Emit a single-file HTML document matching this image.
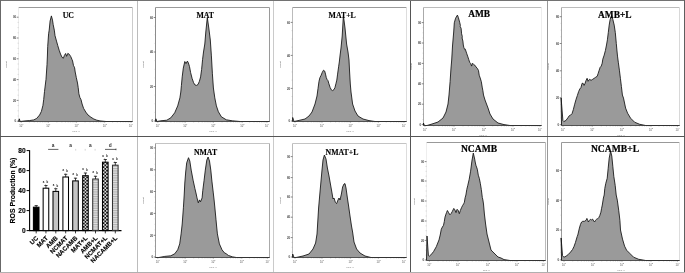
<!DOCTYPE html>
<html><head><meta charset="utf-8"><style>
html,body{margin:0;padding:0;background:#fff;width:685px;height:273px;overflow:hidden}
svg{display:block;font-family:"Liberation Sans",sans-serif;filter:grayscale(1)}
</style></head><body>
<svg width="685" height="273" viewBox="0 0 685 273">
<defs><pattern id="chk1" width="3.3" height="3.3" patternUnits="userSpaceOnUse" x="82.98" y="0"><rect width="3.3" height="3.3" fill="#111"/><rect width="1.65" height="1.65" fill="#e0e0e0"/><rect x="1.65" y="1.65" width="1.65" height="1.65" fill="#e0e0e0"/></pattern><pattern id="chk2" width="3.5" height="3.5" patternUnits="userSpaceOnUse" x="102.67" y="0"><rect width="3.5" height="3.5" fill="#111"/><rect width="1.75" height="1.75" fill="#e0e0e0"/><rect x="1.75" y="1.75" width="1.75" height="1.75" fill="#e0e0e0"/></pattern><pattern id="hst" width="4" height="1.75" patternUnits="userSpaceOnUse"><rect width="4" height="1.75" fill="#e2e2e2"/><rect width="4" height="0.85" fill="#b0b0b0"/></pattern></defs>
<rect width="685" height="273" fill="#fff"/>
<path d="M18.5 7.5H132.5" stroke="#9a9a9a" stroke-width="1" fill="none"/>
<path d="M132.5 7.5V121.5" stroke="#cccccc" stroke-width="1" fill="none"/>
<path d="M18.5 7.5V121.5" stroke="#ececec" stroke-width="1" fill="none"/>
<path d="M17.6 116H18.5M17.6 110.8H18.5M17.6 105.6H18.5M17.6 95.2H18.5M17.6 90H18.5M17.6 84.8H18.5M17.6 74.4H18.5M17.6 69.2H18.5M17.6 64H18.5M17.6 53.6H18.5M17.6 48.4H18.5M17.6 43.2H18.5M17.6 32.8H18.5M17.6 27.6H18.5M17.6 22.4H18.5" stroke="#999" stroke-width="0.4"/>
<path d="M16.7 121.2H18.5" stroke="#555" stroke-width="0.7"/>
<path d="M16.7 100.4H18.5" stroke="#555" stroke-width="0.7"/>
<path d="M16.7 79.6H18.5" stroke="#555" stroke-width="0.7"/>
<path d="M16.7 58.8H18.5" stroke="#555" stroke-width="0.7"/>
<path d="M16.7 38H18.5" stroke="#555" stroke-width="0.7"/>
<path d="M16.7 17.2H18.5" stroke="#555" stroke-width="0.7"/>
<text x="16.2" y="122.45" font-size="2.9" font-weight="bold" fill="#444" text-anchor="end">0</text>
<text x="16.2" y="101.65" font-size="2.9" font-weight="bold" fill="#444" text-anchor="end">20</text>
<text x="16.2" y="80.85" font-size="2.9" font-weight="bold" fill="#444" text-anchor="end">40</text>
<text x="16.2" y="60.05" font-size="2.9" font-weight="bold" fill="#444" text-anchor="end">60</text>
<text x="16.2" y="39.25" font-size="2.9" font-weight="bold" fill="#444" text-anchor="end">80</text>
<text x="16.2" y="18.45" font-size="2.9" font-weight="bold" fill="#444" text-anchor="end">00</text>
<path d="M21.2 121.5V122.8M29.39 121.5V122.3M34.18 121.5V122.3M37.58 121.5V122.3M40.21 121.5V122.3M42.37 121.5V122.3M44.19 121.5V122.3M45.76 121.5V122.3M47.16 121.5V122.3M48.4 121.5V122.8M56.89 121.5V122.3M61.85 121.5V122.3M65.38 121.5V122.3M68.11 121.5V122.3M70.34 121.5V122.3M72.23 121.5V122.3M73.87 121.5V122.3M75.31 121.5V122.3M76.6 121.5V122.8M85.06 121.5V122.3M90.01 121.5V122.3M93.52 121.5V122.3M96.24 121.5V122.3M98.47 121.5V122.3M100.35 121.5V122.3M101.98 121.5V122.3M103.41 121.5V122.3M104.7 121.5V122.8M112.65 121.5V122.3M117.3 121.5V122.3M120.59 121.5V122.3M123.15 121.5V122.3M125.24 121.5V122.3M127.01 121.5V122.3M128.54 121.5V122.3M129.89 121.5V122.3M131.1 121.5V122.8" stroke="#444" stroke-width="0.4"/>
<text x="21.2" y="126.5" font-size="2.7" fill="#555" text-anchor="middle">10<tspan font-size="1.9" dy="-1.1">0</tspan></text>
<text x="48.4" y="126.5" font-size="2.7" fill="#555" text-anchor="middle">10<tspan font-size="1.9" dy="-1.1">1</tspan></text>
<text x="76.6" y="126.5" font-size="2.7" fill="#555" text-anchor="middle">10<tspan font-size="1.9" dy="-1.1">2</tspan></text>
<text x="104.7" y="126.5" font-size="2.7" fill="#555" text-anchor="middle">10<tspan font-size="1.9" dy="-1.1">3</tspan></text>
<text x="131.1" y="126.5" font-size="2.7" fill="#555" text-anchor="middle">10<tspan font-size="1.9" dy="-1.1">4</tspan></text>
<text x="76" y="131.9" font-size="2.5" fill="#666" text-anchor="middle">FL1-H</text>
<text transform="translate(7.1 64.5) rotate(-90)" font-size="2.5" fill="#666" text-anchor="middle">Count</text>
<path d="M18.5 121.5 L19.3 118.8 L20.2 121.5 L25 120.9 L29.4 120.6 L33.8 119.9 L36.7 118.4 L39.6 115 L41.4 111.4 L42.9 105.5 L43.7 99.6 L44.5 91.5 L45.3 85 L46 79.3 L47 64.7 L47.4 56 L47.7 46.6 L48.6 33.8 L49.2 30.1 L50.1 21 L51.4 15.9 L52.5 20.1 L53.2 24.7 L54.3 30.1 L55 35.6 L56.5 41.1 L57.8 45.7 L59.2 50.3 L60.5 54 L62 57.3 L63.4 58.2 L64.4 55.4 L65.6 53.5 L66.6 56.3 L67.8 53.4 L69.3 54.3 L70.8 56.7 L72 59.5 L72.6 61 L73.5 65.6 L74.2 66.8 L74.6 67.8 L75.2 72 L76.3 77.5 L77.5 83 L78.2 87.5 L78.9 93.8 L79.9 97.5 L81 99.6 L82.1 104 L83.6 108.4 L85.8 112.1 L88 115 L90.9 117.2 L93.8 119 L96.8 120.2 L100 120.9 L106 121.5 L132.5 121.5Z" fill="#9a9a9a"/>
<path d="M18.5 121.5 L19.3 118.8 L20.2 121.5 L25 120.9 L29.4 120.6 L33.8 119.9 L36.7 118.4 L39.6 115 L41.4 111.4 L42.9 105.5 L43.7 99.6 L44.5 91.5 L45.3 85 L46 79.3 L47 64.7 L47.4 56 L47.7 46.6 L48.6 33.8 L49.2 30.1 L50.1 21 L51.4 15.9 L52.5 20.1 L53.2 24.7 L54.3 30.1 L55 35.6 L56.5 41.1 L57.8 45.7 L59.2 50.3 L60.5 54 L62 57.3 L63.4 58.2 L64.4 55.4 L65.6 53.5 L66.6 56.3 L67.8 53.4 L69.3 54.3 L70.8 56.7 L72 59.5 L72.6 61 L73.5 65.6 L74.2 66.8 L74.6 67.8 L75.2 72 L76.3 77.5 L77.5 83 L78.2 87.5 L78.9 93.8 L79.9 97.5 L81 99.6 L82.1 104 L83.6 108.4 L85.8 112.1 L88 115 L90.9 117.2 L93.8 119 L96.8 120.2 L100 120.9 L106 121.5 L132.5 121.5" fill="none" stroke="#111" stroke-width="0.85" stroke-linejoin="miter" stroke-miterlimit="3"/>
<path d="M18.5 121.5H132.5" stroke="#333" stroke-width="0.8" fill="none"/>
<text x="68.3" y="17.8" font-family="Liberation Serif" font-weight="bold" font-size="7.8" text-anchor="middle" fill="#000" stroke="#000" stroke-width="0.12">UC</text>
<path d="M155.5 7.5H269.5" stroke="#9a9a9a" stroke-width="1" fill="none"/>
<path d="M269.5 7.5V121.5" stroke="#9a9a9a" stroke-width="1" fill="none"/>
<path d="M155.5 7.5V121.5" stroke="#8c8c8c" stroke-width="1" fill="none"/>
<path d="M154.6 112.38H155.5M154.6 103.75H155.5M154.6 95.12H155.5M154.6 77.88H155.5M154.6 69.25H155.5M154.6 60.62H155.5M154.6 43.38H155.5M154.6 34.75H155.5M154.6 26.12H155.5" stroke="#999" stroke-width="0.4"/>
<path d="M153.7 121H155.5" stroke="#555" stroke-width="0.7"/>
<path d="M153.7 86.5H155.5" stroke="#555" stroke-width="0.7"/>
<path d="M153.7 52H155.5" stroke="#555" stroke-width="0.7"/>
<path d="M153.7 17.5H155.5" stroke="#555" stroke-width="0.7"/>
<text x="153.2" y="122.25" font-size="2.9" font-weight="bold" fill="#444" text-anchor="end">0</text>
<text x="153.2" y="87.75" font-size="2.9" font-weight="bold" fill="#444" text-anchor="end">20</text>
<text x="153.2" y="53.25" font-size="2.9" font-weight="bold" fill="#444" text-anchor="end">40</text>
<text x="153.2" y="18.75" font-size="2.9" font-weight="bold" fill="#444" text-anchor="end">60</text>
<path d="M157.8 121.5V122.8M166.05 121.5V122.3M170.87 121.5V122.3M174.3 121.5V122.3M176.95 121.5V122.3M179.12 121.5V122.3M180.96 121.5V122.3M182.54 121.5V122.3M183.95 121.5V122.3M185.2 121.5V122.8M193.69 121.5V122.3M198.65 121.5V122.3M202.18 121.5V122.3M204.91 121.5V122.3M207.14 121.5V122.3M209.03 121.5V122.3M210.67 121.5V122.3M212.11 121.5V122.3M213.4 121.5V122.8M222.07 121.5V122.3M227.14 121.5V122.3M230.74 121.5V122.3M233.53 121.5V122.3M235.81 121.5V122.3M237.74 121.5V122.3M239.41 121.5V122.3M240.88 121.5V122.3M242.2 121.5V122.8M249.67 121.5V122.3M254.03 121.5V122.3M257.13 121.5V122.3M259.53 121.5V122.3M261.5 121.5V122.3M263.16 121.5V122.3M264.6 121.5V122.3M265.87 121.5V122.3M267 121.5V122.8" stroke="#444" stroke-width="0.4"/>
<text x="157.8" y="126.5" font-size="2.7" fill="#555" text-anchor="middle">10<tspan font-size="1.9" dy="-1.1">0</tspan></text>
<text x="185.2" y="126.5" font-size="2.7" fill="#555" text-anchor="middle">10<tspan font-size="1.9" dy="-1.1">1</tspan></text>
<text x="213.4" y="126.5" font-size="2.7" fill="#555" text-anchor="middle">10<tspan font-size="1.9" dy="-1.1">2</tspan></text>
<text x="242.2" y="126.5" font-size="2.7" fill="#555" text-anchor="middle">10<tspan font-size="1.9" dy="-1.1">3</tspan></text>
<text x="267" y="126.5" font-size="2.7" fill="#555" text-anchor="middle">10<tspan font-size="1.9" dy="-1.1">4</tspan></text>
<text x="213" y="131.9" font-size="2.5" fill="#666" text-anchor="middle">FL1-H</text>
<text transform="translate(144.1 64.5) rotate(-90)" font-size="2.5" fill="#666" text-anchor="middle">Count</text>
<path d="M155.5 121.5 L155.9 118.8 L156.8 121.5 L160.8 120.8 L166.8 120.2 L170.8 117.8 L174.7 112.8 L177.7 105.9 L179.9 97.9 L180.8 92 L181.4 85.5 L182.2 76.9 L183.3 68.1 L184.8 61.5 L186 63.6 L187.4 61.1 L188.4 63 L189.5 66.6 L190.6 72.5 L192.1 78.4 L193.6 82.7 L195 85 L196.5 85.4 L198 84.5 L199.4 81.3 L200.6 76.9 L201.6 69.6 L202.6 59.3 L203.5 52 L204.8 44 L205.8 32 L207.3 17.5 L208.8 28 L210.3 40 L211.4 55.9 L212.4 73.8 L213.4 88 L214.8 97.9 L216.4 105.9 L218.4 111.8 L221.4 116.8 L226.3 119.8 L232.3 120.8 L240.2 121.5 L269.5 121.5Z" fill="#9a9a9a"/>
<path d="M155.5 121.5 L155.9 118.8 L156.8 121.5 L160.8 120.8 L166.8 120.2 L170.8 117.8 L174.7 112.8 L177.7 105.9 L179.9 97.9 L180.8 92 L181.4 85.5 L182.2 76.9 L183.3 68.1 L184.8 61.5 L186 63.6 L187.4 61.1 L188.4 63 L189.5 66.6 L190.6 72.5 L192.1 78.4 L193.6 82.7 L195 85 L196.5 85.4 L198 84.5 L199.4 81.3 L200.6 76.9 L201.6 69.6 L202.6 59.3 L203.5 52 L204.8 44 L205.8 32 L207.3 17.5 L208.8 28 L210.3 40 L211.4 55.9 L212.4 73.8 L213.4 88 L214.8 97.9 L216.4 105.9 L218.4 111.8 L221.4 116.8 L226.3 119.8 L232.3 120.8 L240.2 121.5 L269.5 121.5" fill="none" stroke="#111" stroke-width="0.85" stroke-linejoin="miter" stroke-miterlimit="3"/>
<path d="M155.5 121.5H269.5" stroke="#333" stroke-width="0.8" fill="none"/>
<text x="205.2" y="18.1" font-family="Liberation Serif" font-weight="bold" font-size="7.8" text-anchor="middle" fill="#000" stroke="#000" stroke-width="0.12">MAT</text>
<path d="M292.5 7.5H406.5" stroke="#9a9a9a" stroke-width="1" fill="none"/>
<path d="M406.5 7.5V121.5" stroke="#dddddd" stroke-width="1" fill="none"/>
<path d="M292.5 7.5V121.5" stroke="#bbbbbb" stroke-width="1" fill="none"/>
<path d="M291.6 112.85H292.5M291.6 104.7H292.5M291.6 96.55H292.5M291.6 80.15H292.5M291.6 71.9H292.5M291.6 63.65H292.5M291.6 47.15H292.5M291.6 38.9H292.5M291.6 30.65H292.5" stroke="#999" stroke-width="0.4"/>
<path d="M290.7 121H292.5" stroke="#555" stroke-width="0.7"/>
<path d="M290.7 88.4H292.5" stroke="#555" stroke-width="0.7"/>
<path d="M290.7 55.4H292.5" stroke="#555" stroke-width="0.7"/>
<path d="M290.7 22.4H292.5" stroke="#555" stroke-width="0.7"/>
<text x="290.2" y="122.25" font-size="2.9" font-weight="bold" fill="#444" text-anchor="end">0</text>
<text x="290.2" y="89.65" font-size="2.9" font-weight="bold" fill="#444" text-anchor="end">20</text>
<text x="290.2" y="56.65" font-size="2.9" font-weight="bold" fill="#444" text-anchor="end">40</text>
<text x="290.2" y="23.65" font-size="2.9" font-weight="bold" fill="#444" text-anchor="end">60</text>
<path d="M295 121.5V122.8M303.13 121.5V122.3M307.88 121.5V122.3M311.26 121.5V122.3M313.87 121.5V122.3M316.01 121.5V122.3M317.82 121.5V122.3M319.38 121.5V122.3M320.76 121.5V122.3M322 121.5V122.8M330.61 121.5V122.3M335.65 121.5V122.3M339.22 121.5V122.3M341.99 121.5V122.3M344.26 121.5V122.3M346.17 121.5V122.3M347.83 121.5V122.3M349.29 121.5V122.3M350.6 121.5V122.8M359.03 121.5V122.3M363.96 121.5V122.3M367.46 121.5V122.3M370.17 121.5V122.3M372.39 121.5V122.3M374.26 121.5V122.3M375.89 121.5V122.3M377.32 121.5V122.3M378.6 121.5V122.8M386.25 121.5V122.3M390.72 121.5V122.3M393.89 121.5V122.3M396.35 121.5V122.3M398.37 121.5V122.3M400.07 121.5V122.3M401.54 121.5V122.3M402.84 121.5V122.3M404 121.5V122.8" stroke="#444" stroke-width="0.4"/>
<text x="295" y="126.5" font-size="2.7" fill="#555" text-anchor="middle">10<tspan font-size="1.9" dy="-1.1">0</tspan></text>
<text x="322" y="126.5" font-size="2.7" fill="#555" text-anchor="middle">10<tspan font-size="1.9" dy="-1.1">1</tspan></text>
<text x="350.6" y="126.5" font-size="2.7" fill="#555" text-anchor="middle">10<tspan font-size="1.9" dy="-1.1">2</tspan></text>
<text x="378.6" y="126.5" font-size="2.7" fill="#555" text-anchor="middle">10<tspan font-size="1.9" dy="-1.1">3</tspan></text>
<text x="404" y="126.5" font-size="2.7" fill="#555" text-anchor="middle">10<tspan font-size="1.9" dy="-1.1">4</tspan></text>
<text x="350" y="131.9" font-size="2.5" fill="#666" text-anchor="middle">FL1-H</text>
<text transform="translate(281.1 64.5) rotate(-90)" font-size="2.5" fill="#666" text-anchor="middle">Count</text>
<path d="M292.5 121.5 L292.7 117.5 L294 121.5 L299 120.4 L305 119 L309 116 L312 112 L315 104 L317 96 L318 88.6 L319 81.3 L319.9 77.7 L321.1 75.3 L322.3 72.3 L323.5 70.2 L324.7 71.1 L325.5 74.1 L326.3 77.7 L327.1 79.5 L328 80.7 L328.9 83.8 L330.1 87.4 L331.3 89.8 L332.4 90.6 L332.8 90.4 L334 89.6 L335 87.4 L335.9 83.8 L336.8 80.1 L337.6 74.1 L338.6 66.8 L339.3 62 L340.1 55 L341 48 L342.2 36 L343.4 15.6 L345 28 L346.6 44 L348 52 L349 60 L349.6 72 L350.3 84 L351 92 L352.6 104 L355 111 L358 116 L363 119 L369 120.6 L375 121.5 L406.5 121.5Z" fill="#9a9a9a"/>
<path d="M292.5 121.5 L292.7 117.5 L294 121.5 L299 120.4 L305 119 L309 116 L312 112 L315 104 L317 96 L318 88.6 L319 81.3 L319.9 77.7 L321.1 75.3 L322.3 72.3 L323.5 70.2 L324.7 71.1 L325.5 74.1 L326.3 77.7 L327.1 79.5 L328 80.7 L328.9 83.8 L330.1 87.4 L331.3 89.8 L332.4 90.6 L332.8 90.4 L334 89.6 L335 87.4 L335.9 83.8 L336.8 80.1 L337.6 74.1 L338.6 66.8 L339.3 62 L340.1 55 L341 48 L342.2 36 L343.4 15.6 L345 28 L346.6 44 L348 52 L349 60 L349.6 72 L350.3 84 L351 92 L352.6 104 L355 111 L358 116 L363 119 L369 120.6 L375 121.5 L406.5 121.5" fill="none" stroke="#111" stroke-width="0.85" stroke-linejoin="miter" stroke-miterlimit="3"/>
<path d="M292.5 121.5H406.5" stroke="#333" stroke-width="0.8" fill="none"/>
<text x="342.2" y="18.2" font-family="Liberation Serif" font-weight="bold" font-size="7.8" text-anchor="middle" fill="#000" stroke="#000" stroke-width="0.12">MAT+L</text>
<path d="M423.5 7.5H541.5" stroke="#bcbcbc" stroke-width="1" fill="none"/>
<path d="M541.5 7.5V125.5" stroke="#eeeeee" stroke-width="1" fill="none"/>
<path d="M423.5 7.5V125.5" stroke="#aaaaaa" stroke-width="1" fill="none"/>
<path d="M422.6 119.5H423.5M422.6 114.4H423.5M422.6 109.3H423.5M422.6 99.1H423.5M422.6 94H423.5M422.6 88.9H423.5M422.6 78.7H423.5M422.6 73.6H423.5M422.6 68.5H423.5M422.6 58.3H423.5M422.6 53.2H423.5M422.6 48.1H423.5M422.6 37.9H423.5M422.6 32.8H423.5M422.6 27.7H423.5" stroke="#999" stroke-width="0.4"/>
<path d="M421.7 124.6H423.5" stroke="#555" stroke-width="0.7"/>
<path d="M421.7 104.2H423.5" stroke="#555" stroke-width="0.7"/>
<path d="M421.7 83.8H423.5" stroke="#555" stroke-width="0.7"/>
<path d="M421.7 63.4H423.5" stroke="#555" stroke-width="0.7"/>
<path d="M421.7 43H423.5" stroke="#555" stroke-width="0.7"/>
<path d="M421.7 22.6H423.5" stroke="#555" stroke-width="0.7"/>
<text x="421.2" y="125.85" font-size="2.9" font-weight="bold" fill="#444" text-anchor="end">0</text>
<text x="421.2" y="105.45" font-size="2.9" font-weight="bold" fill="#444" text-anchor="end">20</text>
<text x="421.2" y="85.05" font-size="2.9" font-weight="bold" fill="#444" text-anchor="end">40</text>
<text x="421.2" y="64.65" font-size="2.9" font-weight="bold" fill="#444" text-anchor="end">60</text>
<text x="421.2" y="44.25" font-size="2.9" font-weight="bold" fill="#444" text-anchor="end">80</text>
<text x="421.2" y="23.85" font-size="2.9" font-weight="bold" fill="#444" text-anchor="end">00</text>
<path d="M425 125.5V126.8M433.73 125.5V126.3M438.84 125.5V126.3M442.46 125.5V126.3M445.27 125.5V126.3M447.57 125.5V126.3M449.51 125.5V126.3M451.19 125.5V126.3M452.67 125.5V126.3M454 125.5V126.8M463.03 125.5V126.3M468.31 125.5V126.3M472.06 125.5V126.3M474.97 125.5V126.3M477.34 125.5V126.3M479.35 125.5V126.3M481.09 125.5V126.3M482.63 125.5V126.3M484 125.5V126.8M492.73 125.5V126.3M497.84 125.5V126.3M501.46 125.5V126.3M504.27 125.5V126.3M506.57 125.5V126.3M508.51 125.5V126.3M510.19 125.5V126.3M511.67 125.5V126.3M513 125.5V126.8M521.13 125.5V126.3M525.88 125.5V126.3M529.26 125.5V126.3M531.87 125.5V126.3M534.01 125.5V126.3M535.82 125.5V126.3M537.38 125.5V126.3M538.76 125.5V126.3M540 125.5V126.8" stroke="#444" stroke-width="0.4"/>
<text x="425" y="130.5" font-size="2.7" fill="#555" text-anchor="middle">10<tspan font-size="1.9" dy="-1.1">0</tspan></text>
<text x="454" y="130.5" font-size="2.7" fill="#555" text-anchor="middle">10<tspan font-size="1.9" dy="-1.1">1</tspan></text>
<text x="484" y="130.5" font-size="2.7" fill="#555" text-anchor="middle">10<tspan font-size="1.9" dy="-1.1">2</tspan></text>
<text x="513" y="130.5" font-size="2.7" fill="#555" text-anchor="middle">10<tspan font-size="1.9" dy="-1.1">3</tspan></text>
<text x="540" y="130.5" font-size="2.7" fill="#555" text-anchor="middle">10<tspan font-size="1.9" dy="-1.1">4</tspan></text>
<text x="483" y="135.9" font-size="2.5" fill="#666" text-anchor="middle">FL1-H</text>
<text transform="translate(412.1 66.5) rotate(-90)" font-size="2.5" fill="#666" text-anchor="middle">Count</text>
<path d="M423.5 125.5 L423.4 123 L424.5 125.5 L427 125.5 L432 124 L438 122 L443 118 L446 112 L448 104 L449 95 L450.1 81.6 L451 68 L451.7 60 L452.5 46 L453.7 32 L454.3 22.8 L455.6 18.2 L457.4 15.1 L458.3 17.3 L459.8 22.8 L460.4 25.5 L460.2 26.5 L461.1 28.3 L461.6 33.8 L462.3 36.5 L462.1 38 L462.9 41.1 L463.3 45 L463.9 47.7 L464.8 49.6 L465.3 49.2 L466.6 53.2 L467.9 56.9 L468.8 59.7 L469.7 62.4 L470.6 63.3 L471.6 66.1 L472.5 63.3 L473.4 64.2 L474.7 65.1 L476.1 67 L477.6 68.8 L478.5 70.6 L479.2 75.2 L480.2 78 L481.3 81.6 L482.2 87.1 L482.9 90.8 L483.5 95 L485 100 L488 108 L490 114 L493 119 L498 123 L504 124.6 L510 125.5 L541.5 125.5Z" fill="#9a9a9a"/>
<path d="M423.5 125.5 L423.4 123 L424.5 125.5 L427 125.5 L432 124 L438 122 L443 118 L446 112 L448 104 L449 95 L450.1 81.6 L451 68 L451.7 60 L452.5 46 L453.7 32 L454.3 22.8 L455.6 18.2 L457.4 15.1 L458.3 17.3 L459.8 22.8 L460.4 25.5 L460.2 26.5 L461.1 28.3 L461.6 33.8 L462.3 36.5 L462.1 38 L462.9 41.1 L463.3 45 L463.9 47.7 L464.8 49.6 L465.3 49.2 L466.6 53.2 L467.9 56.9 L468.8 59.7 L469.7 62.4 L470.6 63.3 L471.6 66.1 L472.5 63.3 L473.4 64.2 L474.7 65.1 L476.1 67 L477.6 68.8 L478.5 70.6 L479.2 75.2 L480.2 78 L481.3 81.6 L482.2 87.1 L482.9 90.8 L483.5 95 L485 100 L488 108 L490 114 L493 119 L498 123 L504 124.6 L510 125.5 L541.5 125.5" fill="none" stroke="#111" stroke-width="0.85" stroke-linejoin="miter" stroke-miterlimit="3"/>
<path d="M423.5 125.5H541.5" stroke="#333" stroke-width="0.8" fill="none"/>
<text x="479.2" y="17.4" font-family="Liberation Serif" font-weight="bold" font-size="9.4" text-anchor="middle" fill="#000" stroke="#000" stroke-width="0.2">AMB</text>
<path d="M561.5 7.5H679.5" stroke="#bcbcbc" stroke-width="1" fill="none"/>
<path d="M679.5 7.5V125.5" stroke="#d8d8d8" stroke-width="1" fill="none"/>
<path d="M561.5 7.5V125.5" stroke="#aaaaaa" stroke-width="1" fill="none"/>
<path d="M560.6 117.95H561.5M560.6 111.2H561.5M560.6 104.45H561.5M560.6 90.97H561.5M560.6 84.25H561.5M560.6 77.53H561.5M560.6 63.97H561.5M560.6 57.15H561.5M560.6 50.33H561.5M560.6 36.8H561.5M560.6 30.1H561.5M560.6 23.4H561.5" stroke="#999" stroke-width="0.4"/>
<path d="M559.7 124.7H561.5" stroke="#555" stroke-width="0.7"/>
<path d="M559.7 97.7H561.5" stroke="#555" stroke-width="0.7"/>
<path d="M559.7 70.8H561.5" stroke="#555" stroke-width="0.7"/>
<path d="M559.7 43.5H561.5" stroke="#555" stroke-width="0.7"/>
<path d="M559.7 16.7H561.5" stroke="#555" stroke-width="0.7"/>
<text x="559.2" y="125.95" font-size="2.9" font-weight="bold" fill="#444" text-anchor="end">0</text>
<text x="559.2" y="98.95" font-size="2.9" font-weight="bold" fill="#444" text-anchor="end">20</text>
<text x="559.2" y="72.05" font-size="2.9" font-weight="bold" fill="#444" text-anchor="end">40</text>
<text x="559.2" y="44.75" font-size="2.9" font-weight="bold" fill="#444" text-anchor="end">60</text>
<text x="559.2" y="17.95" font-size="2.9" font-weight="bold" fill="#444" text-anchor="end">80</text>
<path d="M563 125.5V126.8M571.82 125.5V126.3M576.98 125.5V126.3M580.64 125.5V126.3M583.48 125.5V126.3M585.8 125.5V126.3M587.76 125.5V126.3M589.46 125.5V126.3M590.96 125.5V126.3M592.3 125.5V126.8M601.24 125.5V126.3M606.47 125.5V126.3M610.18 125.5V126.3M613.06 125.5V126.3M615.41 125.5V126.3M617.4 125.5V126.3M619.12 125.5V126.3M620.64 125.5V126.3M622 125.5V126.8M630.73 125.5V126.3M635.84 125.5V126.3M639.46 125.5V126.3M642.27 125.5V126.3M644.57 125.5V126.3M646.51 125.5V126.3M648.19 125.5V126.3M649.67 125.5V126.3M651 125.5V126.8M658.98 125.5V126.3M663.64 125.5V126.3M666.95 125.5V126.3M669.52 125.5V126.3M671.62 125.5V126.3M673.4 125.5V126.3M674.93 125.5V126.3M676.29 125.5V126.3M677.5 125.5V126.8" stroke="#444" stroke-width="0.4"/>
<text x="563" y="130.5" font-size="2.7" fill="#555" text-anchor="middle">10<tspan font-size="1.9" dy="-1.1">0</tspan></text>
<text x="592.3" y="130.5" font-size="2.7" fill="#555" text-anchor="middle">10<tspan font-size="1.9" dy="-1.1">1</tspan></text>
<text x="622" y="130.5" font-size="2.7" fill="#555" text-anchor="middle">10<tspan font-size="1.9" dy="-1.1">2</tspan></text>
<text x="651" y="130.5" font-size="2.7" fill="#555" text-anchor="middle">10<tspan font-size="1.9" dy="-1.1">3</tspan></text>
<text x="677.5" y="130.5" font-size="2.7" fill="#555" text-anchor="middle">10<tspan font-size="1.9" dy="-1.1">4</tspan></text>
<text x="621" y="135.9" font-size="2.5" fill="#666" text-anchor="middle">FL1-H</text>
<text transform="translate(549.3 66.5) rotate(-90)" font-size="2.5" fill="#666" text-anchor="middle">Count</text>
<path d="M561.5 125.5 L561.1 98 L562.9 120.5 L563.8 121.5 L565.9 120.5 L567.9 117.8 L569.2 115.8 L570.6 115.1 L572 113.7 L573.3 109.7 L574.7 104.2 L576 99.5 L577.4 95.4 L578.7 91.4 L579.8 89 L581 87.4 L582.1 83.3 L583.1 83.3 L584.1 85.4 L585.1 83.3 L586.1 80.3 L587.1 78.3 L588.1 81.3 L589.5 79.3 L591.1 80.3 L592.7 79.3 L594.2 78.3 L595.6 77.3 L597.2 76.3 L598.2 73.3 L599.2 70.2 L600.2 67.2 L601.2 66.2 L602.2 63.2 L602.8 59.2 L604.2 55.1 L605.4 50.5 L606.5 45 L607.4 39.8 L608.3 32.5 L609.2 25.1 L610.1 19.7 L611.6 15.1 L612.9 19.7 L614.2 25.1 L615.3 32.5 L615.8 38 L616.3 43.5 L616.9 50 L617.5 56.1 L618.3 62.2 L619.4 70.2 L620.4 78.3 L621.4 86.4 L622.4 95 L623.5 98.1 L625.6 108.1 L627.6 113.2 L630.6 118.2 L634.6 122.2 L639.7 124.3 L645.7 125.5 L679.5 125.5Z" fill="#9a9a9a"/>
<path d="M561.5 125.5 L561.1 98 L562.9 120.5 L563.8 121.5 L565.9 120.5 L567.9 117.8 L569.2 115.8 L570.6 115.1 L572 113.7 L573.3 109.7 L574.7 104.2 L576 99.5 L577.4 95.4 L578.7 91.4 L579.8 89 L581 87.4 L582.1 83.3 L583.1 83.3 L584.1 85.4 L585.1 83.3 L586.1 80.3 L587.1 78.3 L588.1 81.3 L589.5 79.3 L591.1 80.3 L592.7 79.3 L594.2 78.3 L595.6 77.3 L597.2 76.3 L598.2 73.3 L599.2 70.2 L600.2 67.2 L601.2 66.2 L602.2 63.2 L602.8 59.2 L604.2 55.1 L605.4 50.5 L606.5 45 L607.4 39.8 L608.3 32.5 L609.2 25.1 L610.1 19.7 L611.6 15.1 L612.9 19.7 L614.2 25.1 L615.3 32.5 L615.8 38 L616.3 43.5 L616.9 50 L617.5 56.1 L618.3 62.2 L619.4 70.2 L620.4 78.3 L621.4 86.4 L622.4 95 L623.5 98.1 L625.6 108.1 L627.6 113.2 L630.6 118.2 L634.6 122.2 L639.7 124.3 L645.7 125.5 L679.5 125.5" fill="none" stroke="#111" stroke-width="0.85" stroke-linejoin="miter" stroke-miterlimit="3"/>
<path d="M561.5 125.5H679.5" stroke="#333" stroke-width="0.8" fill="none"/>
<text x="614.8" y="17.5" font-family="Liberation Serif" font-weight="bold" font-size="9.4" text-anchor="middle" fill="#000" stroke="#000" stroke-width="0.2">AMB+L</text>
<path d="M155.5 143.5H269.5" stroke="#c4c4c4" stroke-width="1" fill="none"/>
<path d="M269.5 143.5V257.5" stroke="#aaaaaa" stroke-width="1" fill="none"/>
<path d="M155.5 143.5V257.5" stroke="#999999" stroke-width="1" fill="none"/>
<path d="M154.6 251.57H155.5M154.6 246.15H155.5M154.6 240.73H155.5M154.6 229.83H155.5M154.6 224.35H155.5M154.6 218.88H155.5M154.6 207.93H155.5M154.6 202.45H155.5M154.6 196.97H155.5M154.6 186.07H155.5M154.6 180.65H155.5M154.6 175.23H155.5M154.6 164.33H155.5M154.6 158.85H155.5M154.6 153.38H155.5" stroke="#999" stroke-width="0.4"/>
<path d="M153.7 257H155.5" stroke="#555" stroke-width="0.7"/>
<path d="M153.7 235.3H155.5" stroke="#555" stroke-width="0.7"/>
<path d="M153.7 213.4H155.5" stroke="#555" stroke-width="0.7"/>
<path d="M153.7 191.5H155.5" stroke="#555" stroke-width="0.7"/>
<path d="M153.7 169.8H155.5" stroke="#555" stroke-width="0.7"/>
<path d="M153.7 147.9H155.5" stroke="#555" stroke-width="0.7"/>
<text x="153.2" y="258.25" font-size="2.9" font-weight="bold" fill="#444" text-anchor="end">0</text>
<text x="153.2" y="236.55" font-size="2.9" font-weight="bold" fill="#444" text-anchor="end">20</text>
<text x="153.2" y="214.65" font-size="2.9" font-weight="bold" fill="#444" text-anchor="end">40</text>
<text x="153.2" y="192.75" font-size="2.9" font-weight="bold" fill="#444" text-anchor="end">60</text>
<text x="153.2" y="171.05" font-size="2.9" font-weight="bold" fill="#444" text-anchor="end">80</text>
<text x="153.2" y="149.15" font-size="2.9" font-weight="bold" fill="#444" text-anchor="end">00</text>
<path d="M157.8 257.5V258.8M166.05 257.5V258.3M170.87 257.5V258.3M174.3 257.5V258.3M176.95 257.5V258.3M179.12 257.5V258.3M180.96 257.5V258.3M182.54 257.5V258.3M183.95 257.5V258.3M185.2 257.5V258.8M193.69 257.5V258.3M198.65 257.5V258.3M202.18 257.5V258.3M204.91 257.5V258.3M207.14 257.5V258.3M209.03 257.5V258.3M210.67 257.5V258.3M212.11 257.5V258.3M213.4 257.5V258.8M221.95 257.5V258.3M226.95 257.5V258.3M230.5 257.5V258.3M233.25 257.5V258.3M235.5 257.5V258.3M237.4 257.5V258.3M239.05 257.5V258.3M240.5 257.5V258.3M241.8 257.5V258.8M249.57 257.5V258.3M254.11 257.5V258.3M257.33 257.5V258.3M259.83 257.5V258.3M261.88 257.5V258.3M263.6 257.5V258.3M265.1 257.5V258.3M266.42 257.5V258.3M267.6 257.5V258.8" stroke="#444" stroke-width="0.4"/>
<text x="157.8" y="262.5" font-size="2.7" fill="#555" text-anchor="middle">10<tspan font-size="1.9" dy="-1.1">0</tspan></text>
<text x="185.2" y="262.5" font-size="2.7" fill="#555" text-anchor="middle">10<tspan font-size="1.9" dy="-1.1">1</tspan></text>
<text x="213.4" y="262.5" font-size="2.7" fill="#555" text-anchor="middle">10<tspan font-size="1.9" dy="-1.1">2</tspan></text>
<text x="241.8" y="262.5" font-size="2.7" fill="#555" text-anchor="middle">10<tspan font-size="1.9" dy="-1.1">3</tspan></text>
<text x="267.6" y="262.5" font-size="2.7" fill="#555" text-anchor="middle">10<tspan font-size="1.9" dy="-1.1">4</tspan></text>
<text x="213" y="267.9" font-size="2.5" fill="#666" text-anchor="middle">FL1-H</text>
<text transform="translate(144.1 200.5) rotate(-90)" font-size="2.5" fill="#666" text-anchor="middle">Count</text>
<path d="M155.5 257.5 L158.8 257.5 L164.8 256.4 L170.8 255.8 L174.7 253.8 L177.7 249.8 L179.7 243.9 L181.1 233.9 L182.2 224 L183.4 207.8 L184.2 195 L184.8 183 L185.7 172 L186.7 162.8 L188.5 157.7 L189.8 161 L191.2 170.1 L193.1 180.2 L194.9 188.5 L196.2 194 L197 197.9 L198.3 202.8 L199.5 199.9 L200.5 201.8 L202.1 197.9 L202.8 190.3 L204.1 180.2 L205.3 170.1 L206.8 160.1 L208.1 157 L209.5 161 L210.8 170.1 L211.9 181.1 L213.2 192.1 L214.1 200 L214.8 207 L216 219.7 L216.6 226 L217.4 233.9 L219.4 243.9 L222 249.8 L224.4 252.8 L226.3 253.8 L228.3 255.4 L232.3 256.8 L236.3 257.5 L269.5 257.5Z" fill="#9a9a9a"/>
<path d="M155.5 257.5 L158.8 257.5 L164.8 256.4 L170.8 255.8 L174.7 253.8 L177.7 249.8 L179.7 243.9 L181.1 233.9 L182.2 224 L183.4 207.8 L184.2 195 L184.8 183 L185.7 172 L186.7 162.8 L188.5 157.7 L189.8 161 L191.2 170.1 L193.1 180.2 L194.9 188.5 L196.2 194 L197 197.9 L198.3 202.8 L199.5 199.9 L200.5 201.8 L202.1 197.9 L202.8 190.3 L204.1 180.2 L205.3 170.1 L206.8 160.1 L208.1 157 L209.5 161 L210.8 170.1 L211.9 181.1 L213.2 192.1 L214.1 200 L214.8 207 L216 219.7 L216.6 226 L217.4 233.9 L219.4 243.9 L222 249.8 L224.4 252.8 L226.3 253.8 L228.3 255.4 L232.3 256.8 L236.3 257.5 L269.5 257.5" fill="none" stroke="#111" stroke-width="0.85" stroke-linejoin="miter" stroke-miterlimit="3"/>
<path d="M155.5 257.5H269.5" stroke="#333" stroke-width="0.8" fill="none"/>
<text x="205.5" y="154.7" font-family="Liberation Serif" font-weight="bold" font-size="7.8" text-anchor="middle" fill="#000" stroke="#000" stroke-width="0.12">NMAT</text>
<path d="M292.5 143.5H406.5" stroke="#c4c4c4" stroke-width="1" fill="none"/>
<path d="M406.5 143.5V257.5" stroke="#dddddd" stroke-width="1" fill="none"/>
<path d="M292.5 143.5V257.5" stroke="#bbbbbb" stroke-width="1" fill="none"/>
<path d="M291.6 252.15H292.5M291.6 247.3H292.5M291.6 242.45H292.5M291.6 232.5H292.5M291.6 227.4H292.5M291.6 222.3H292.5M291.6 212.15H292.5M291.6 207.1H292.5M291.6 202.05H292.5M291.6 192.15H292.5M291.6 187.3H292.5M291.6 182.45H292.5M291.6 172.35H292.5M291.6 167.1H292.5M291.6 161.85H292.5" stroke="#999" stroke-width="0.4"/>
<path d="M290.7 257H292.5" stroke="#555" stroke-width="0.7"/>
<path d="M290.7 237.6H292.5" stroke="#555" stroke-width="0.7"/>
<path d="M290.7 217.2H292.5" stroke="#555" stroke-width="0.7"/>
<path d="M290.7 197H292.5" stroke="#555" stroke-width="0.7"/>
<path d="M290.7 177.6H292.5" stroke="#555" stroke-width="0.7"/>
<path d="M290.7 156.6H292.5" stroke="#555" stroke-width="0.7"/>
<text x="290.2" y="258.25" font-size="2.9" font-weight="bold" fill="#444" text-anchor="end">0</text>
<text x="290.2" y="238.85" font-size="2.9" font-weight="bold" fill="#444" text-anchor="end">20</text>
<text x="290.2" y="218.45" font-size="2.9" font-weight="bold" fill="#444" text-anchor="end">40</text>
<text x="290.2" y="198.25" font-size="2.9" font-weight="bold" fill="#444" text-anchor="end">60</text>
<text x="290.2" y="178.85" font-size="2.9" font-weight="bold" fill="#444" text-anchor="end">80</text>
<text x="290.2" y="157.85" font-size="2.9" font-weight="bold" fill="#444" text-anchor="end">00</text>
<path d="M295 257.5V258.8M303.13 257.5V258.3M307.88 257.5V258.3M311.26 257.5V258.3M313.87 257.5V258.3M316.01 257.5V258.3M317.82 257.5V258.3M319.38 257.5V258.3M320.76 257.5V258.3M322 257.5V258.8M330.61 257.5V258.3M335.65 257.5V258.3M339.22 257.5V258.3M341.99 257.5V258.3M344.26 257.5V258.3M346.17 257.5V258.3M347.83 257.5V258.3M349.29 257.5V258.3M350.6 257.5V258.8M359.03 257.5V258.3M363.96 257.5V258.3M367.46 257.5V258.3M370.17 257.5V258.3M372.39 257.5V258.3M374.26 257.5V258.3M375.89 257.5V258.3M377.32 257.5V258.3M378.6 257.5V258.8M386.25 257.5V258.3M390.72 257.5V258.3M393.89 257.5V258.3M396.35 257.5V258.3M398.37 257.5V258.3M400.07 257.5V258.3M401.54 257.5V258.3M402.84 257.5V258.3M404 257.5V258.8" stroke="#444" stroke-width="0.4"/>
<text x="295" y="262.5" font-size="2.7" fill="#555" text-anchor="middle">10<tspan font-size="1.9" dy="-1.1">0</tspan></text>
<text x="322" y="262.5" font-size="2.7" fill="#555" text-anchor="middle">10<tspan font-size="1.9" dy="-1.1">1</tspan></text>
<text x="350.6" y="262.5" font-size="2.7" fill="#555" text-anchor="middle">10<tspan font-size="1.9" dy="-1.1">2</tspan></text>
<text x="378.6" y="262.5" font-size="2.7" fill="#555" text-anchor="middle">10<tspan font-size="1.9" dy="-1.1">3</tspan></text>
<text x="404" y="262.5" font-size="2.7" fill="#555" text-anchor="middle">10<tspan font-size="1.9" dy="-1.1">4</tspan></text>
<text x="350" y="267.9" font-size="2.5" fill="#666" text-anchor="middle">FL1-H</text>
<text transform="translate(281.1 200.5) rotate(-90)" font-size="2.5" fill="#666" text-anchor="middle">Count</text>
<path d="M292.5 257.5 L292.7 254 L294 257.5 L296 257.5 L303 256 L309 254 L313 249 L315.6 243 L317 234 L317.5 226 L318.6 208 L320 192 L321 181 L322 170 L323 160 L324.4 155 L326 159 L327.4 168 L329 176 L330.6 185 L332 193 L333 199 L334 198 L335.4 202.4 L336.6 203.6 L338 200 L339 198 L340 200 L341.4 194 L342.6 187 L344 184 L345 183.6 L346 188 L347.4 198 L348.6 206 L350 216 L351.5 226 L352.6 232 L354 242 L356.6 249 L360 253 L365 256 L371 257.5 L380 257.5 L406.5 257.5Z" fill="#9a9a9a"/>
<path d="M292.5 257.5 L292.7 254 L294 257.5 L296 257.5 L303 256 L309 254 L313 249 L315.6 243 L317 234 L317.5 226 L318.6 208 L320 192 L321 181 L322 170 L323 160 L324.4 155 L326 159 L327.4 168 L329 176 L330.6 185 L332 193 L333 199 L334 198 L335.4 202.4 L336.6 203.6 L338 200 L339 198 L340 200 L341.4 194 L342.6 187 L344 184 L345 183.6 L346 188 L347.4 198 L348.6 206 L350 216 L351.5 226 L352.6 232 L354 242 L356.6 249 L360 253 L365 256 L371 257.5 L380 257.5 L406.5 257.5" fill="none" stroke="#111" stroke-width="0.85" stroke-linejoin="miter" stroke-miterlimit="3"/>
<path d="M292.5 257.5H406.5" stroke="#333" stroke-width="0.8" fill="none"/>
<text x="342" y="155" font-family="Liberation Serif" font-weight="bold" font-size="7.8" text-anchor="middle" fill="#000" stroke="#000" stroke-width="0.12">NMAT+L</text>
<path d="M426.5 142.5H545.5" stroke="#999999" stroke-width="1" fill="none"/>
<path d="M545.5 142.5V260.5" stroke="#bbbbbb" stroke-width="1" fill="none"/>
<path d="M426.5 142.5V260.5" stroke="#eeeeee" stroke-width="1" fill="none"/>
<path d="M425.6 255.1H426.5M425.6 250.2H426.5M425.6 245.3H426.5M425.6 235.55H426.5M425.6 230.7H426.5M425.6 225.85H426.5M425.6 216H426.5M425.6 211H426.5M425.6 206H426.5M425.6 196H426.5M425.6 191H426.5M425.6 186H426.5M425.6 176.15H426.5M425.6 171.3H426.5M425.6 166.45H426.5" stroke="#999" stroke-width="0.4"/>
<path d="M424.7 260H426.5" stroke="#555" stroke-width="0.7"/>
<path d="M424.7 240.4H426.5" stroke="#555" stroke-width="0.7"/>
<path d="M424.7 221H426.5" stroke="#555" stroke-width="0.7"/>
<path d="M424.7 201H426.5" stroke="#555" stroke-width="0.7"/>
<path d="M424.7 181H426.5" stroke="#555" stroke-width="0.7"/>
<path d="M424.7 161.6H426.5" stroke="#555" stroke-width="0.7"/>
<text x="424.2" y="261.25" font-size="2.9" font-weight="bold" fill="#444" text-anchor="end">0</text>
<text x="424.2" y="241.65" font-size="2.9" font-weight="bold" fill="#444" text-anchor="end">20</text>
<text x="424.2" y="222.25" font-size="2.9" font-weight="bold" fill="#444" text-anchor="end">40</text>
<text x="424.2" y="202.25" font-size="2.9" font-weight="bold" fill="#444" text-anchor="end">60</text>
<text x="424.2" y="182.25" font-size="2.9" font-weight="bold" fill="#444" text-anchor="end">80</text>
<text x="424.2" y="162.85" font-size="2.9" font-weight="bold" fill="#444" text-anchor="end">00</text>
<path d="M429.4 260.5V261.8M438.01 260.5V261.3M443.05 260.5V261.3M446.62 260.5V261.3M449.39 260.5V261.3M451.66 260.5V261.3M453.57 260.5V261.3M455.23 260.5V261.3M456.69 260.5V261.3M458 260.5V261.8M467.03 260.5V261.3M472.31 260.5V261.3M476.06 260.5V261.3M478.97 260.5V261.3M481.34 260.5V261.3M483.35 260.5V261.3M485.09 260.5V261.3M486.63 260.5V261.3M488 260.5V261.8M496.73 260.5V261.3M501.84 260.5V261.3M505.46 260.5V261.3M508.27 260.5V261.3M510.57 260.5V261.3M512.51 260.5V261.3M514.19 260.5V261.3M515.67 260.5V261.3M517 260.5V261.8M525.01 260.5V261.3M529.69 260.5V261.3M533.01 260.5V261.3M535.59 260.5V261.3M537.7 260.5V261.3M539.48 260.5V261.3M541.02 260.5V261.3M542.38 260.5V261.3M543.6 260.5V261.8" stroke="#444" stroke-width="0.4"/>
<text x="429.4" y="265.5" font-size="2.7" fill="#555" text-anchor="middle">10<tspan font-size="1.9" dy="-1.1">0</tspan></text>
<text x="458" y="265.5" font-size="2.7" fill="#555" text-anchor="middle">10<tspan font-size="1.9" dy="-1.1">1</tspan></text>
<text x="488" y="265.5" font-size="2.7" fill="#555" text-anchor="middle">10<tspan font-size="1.9" dy="-1.1">2</tspan></text>
<text x="517" y="265.5" font-size="2.7" fill="#555" text-anchor="middle">10<tspan font-size="1.9" dy="-1.1">3</tspan></text>
<text x="543.6" y="265.5" font-size="2.7" fill="#555" text-anchor="middle">10<tspan font-size="1.9" dy="-1.1">4</tspan></text>
<text x="486.5" y="270.9" font-size="2.5" fill="#666" text-anchor="middle">FL1-H</text>
<text transform="translate(415.1 201.5) rotate(-90)" font-size="2.5" fill="#666" text-anchor="middle">Count</text>
<path d="M426.5 260.5 L427 236 L428.4 255.5 L429.3 256.2 L430.9 254.9 L433.6 251.5 L436.3 246.7 L439 239.9 L440.2 235 L441.3 229.2 L442.4 227 L443.5 225.3 L444.3 221.5 L445 217.1 L445.7 214.9 L446.5 212.7 L447.4 210.5 L448.6 212.6 L449.9 214.8 L451 213.7 L452.3 211.5 L453.8 208.4 L454.9 209.9 L456 212.6 L457.1 209.3 L458.2 210.4 L459.3 213.7 L460.4 210.4 L461.5 207.7 L462.6 205.5 L463.7 203.8 L464.4 202.2 L465.1 197.8 L465.9 195 L466.8 189.4 L467.8 185.3 L469.2 179.3 L470.6 171.2 L471.9 161.1 L473.3 153.1 L474.7 159.1 L475.2 162 L475.9 165.2 L477.3 169.2 L477.6 171 L478.3 175.2 L479.3 178.3 L480.3 183.3 L481.3 189.4 L482.3 197.4 L482.9 200 L483.5 204 L484.4 214 L485.6 224 L487 234 L489 242 L491 250 L493 252 L495 254 L498 257 L501 258 L504 259.6 L510 260.5 L545.5 260.5Z" fill="#9a9a9a"/>
<path d="M426.5 260.5 L427 236 L428.4 255.5 L429.3 256.2 L430.9 254.9 L433.6 251.5 L436.3 246.7 L439 239.9 L440.2 235 L441.3 229.2 L442.4 227 L443.5 225.3 L444.3 221.5 L445 217.1 L445.7 214.9 L446.5 212.7 L447.4 210.5 L448.6 212.6 L449.9 214.8 L451 213.7 L452.3 211.5 L453.8 208.4 L454.9 209.9 L456 212.6 L457.1 209.3 L458.2 210.4 L459.3 213.7 L460.4 210.4 L461.5 207.7 L462.6 205.5 L463.7 203.8 L464.4 202.2 L465.1 197.8 L465.9 195 L466.8 189.4 L467.8 185.3 L469.2 179.3 L470.6 171.2 L471.9 161.1 L473.3 153.1 L474.7 159.1 L475.2 162 L475.9 165.2 L477.3 169.2 L477.6 171 L478.3 175.2 L479.3 178.3 L480.3 183.3 L481.3 189.4 L482.3 197.4 L482.9 200 L483.5 204 L484.4 214 L485.6 224 L487 234 L489 242 L491 250 L493 252 L495 254 L498 257 L501 258 L504 259.6 L510 260.5 L545.5 260.5" fill="none" stroke="#111" stroke-width="0.85" stroke-linejoin="miter" stroke-miterlimit="3"/>
<path d="M426.5 260.5H545.5" stroke="#333" stroke-width="0.8" fill="none"/>
<text x="479" y="152.4" font-family="Liberation Serif" font-weight="bold" font-size="9.6" text-anchor="middle" fill="#000" stroke="#000" stroke-width="0.2">NCAMB</text>
<path d="M561.5 142.5H679.5" stroke="#999999" stroke-width="1" fill="none"/>
<path d="M679.5 142.5V260.5" stroke="#dddddd" stroke-width="1" fill="none"/>
<path d="M561.5 142.5V260.5" stroke="#999999" stroke-width="1" fill="none"/>
<path d="M560.6 252.42H561.5M560.6 244.95H561.5M560.6 237.47H561.5M560.6 222.57H561.5M560.6 215.15H561.5M560.6 207.73H561.5M560.6 192.85H561.5M560.6 185.4H561.5M560.6 177.95H561.5" stroke="#999" stroke-width="0.4"/>
<path d="M559.7 259.9H561.5" stroke="#555" stroke-width="0.7"/>
<path d="M559.7 230H561.5" stroke="#555" stroke-width="0.7"/>
<path d="M559.7 200.3H561.5" stroke="#555" stroke-width="0.7"/>
<path d="M559.7 170.5H561.5" stroke="#555" stroke-width="0.7"/>
<text x="559.2" y="261.15" font-size="2.9" font-weight="bold" fill="#444" text-anchor="end">0</text>
<text x="559.2" y="231.25" font-size="2.9" font-weight="bold" fill="#444" text-anchor="end">20</text>
<text x="559.2" y="201.55" font-size="2.9" font-weight="bold" fill="#444" text-anchor="end">40</text>
<text x="559.2" y="171.75" font-size="2.9" font-weight="bold" fill="#444" text-anchor="end">60</text>
<path d="M564 260.5V261.8M572.73 260.5V261.3M577.84 260.5V261.3M581.46 260.5V261.3M584.27 260.5V261.3M586.57 260.5V261.3M588.51 260.5V261.3M590.19 260.5V261.3M591.67 260.5V261.3M593 260.5V261.8M601.73 260.5V261.3M606.84 260.5V261.3M610.46 260.5V261.3M613.27 260.5V261.3M615.57 260.5V261.3M617.51 260.5V261.3M619.19 260.5V261.3M620.67 260.5V261.3M622 260.5V261.8M630.73 260.5V261.3M635.84 260.5V261.3M639.46 260.5V261.3M642.27 260.5V261.3M644.57 260.5V261.3M646.51 260.5V261.3M648.19 260.5V261.3M649.67 260.5V261.3M651 260.5V261.8M658.98 260.5V261.3M663.64 260.5V261.3M666.95 260.5V261.3M669.52 260.5V261.3M671.62 260.5V261.3M673.4 260.5V261.3M674.93 260.5V261.3M676.29 260.5V261.3M677.5 260.5V261.8" stroke="#444" stroke-width="0.4"/>
<text x="564" y="265.5" font-size="2.7" fill="#555" text-anchor="middle">10<tspan font-size="1.9" dy="-1.1">0</tspan></text>
<text x="593" y="265.5" font-size="2.7" fill="#555" text-anchor="middle">10<tspan font-size="1.9" dy="-1.1">1</tspan></text>
<text x="622" y="265.5" font-size="2.7" fill="#555" text-anchor="middle">10<tspan font-size="1.9" dy="-1.1">2</tspan></text>
<text x="651" y="265.5" font-size="2.7" fill="#555" text-anchor="middle">10<tspan font-size="1.9" dy="-1.1">3</tspan></text>
<text x="677.5" y="265.5" font-size="2.7" fill="#555" text-anchor="middle">10<tspan font-size="1.9" dy="-1.1">4</tspan></text>
<text x="621" y="270.9" font-size="2.5" fill="#666" text-anchor="middle">FL1-H</text>
<text transform="translate(549.3 201.5) rotate(-90)" font-size="2.5" fill="#666" text-anchor="middle">Count</text>
<path d="M561.5 260.5 L561.1 238 L562.5 255.5 L563.5 256.9 L564.8 256.9 L566.5 255.8 L568.6 254.2 L570.6 252 L572.6 249.4 L574 246.5 L575.4 242.6 L577.2 236.5 L577.8 235 L579.4 228.1 L580.5 224.3 L581.6 222 L582.7 221.3 L584.4 221.3 L586 220.4 L586.9 218.4 L587.7 220.4 L588.4 222 L589.3 220.4 L590.4 219.3 L591.5 219.9 L592.6 219.1 L593.7 221 L594.6 222 L595.4 220.4 L596.5 219.3 L597.6 218.8 L598.7 217.7 L599.8 215.5 L600.9 212.2 L601.6 208.3 L602.3 205 L603.4 198 L604.2 195 L604.8 188.4 L605.8 183.3 L607.2 178.3 L608.2 168.2 L609.2 158.1 L610.6 151.1 L611.8 156.1 L612.8 166.2 L613.8 176.3 L615.2 185.4 L616.2 195 L617.3 200.1 L618.7 210.2 L619.9 220.3 L620.5 230 L622.5 239.1 L624.6 246.2 L626.6 250.2 L629.6 253.2 L633.6 257.2 L638.7 259.3 L645.7 260.5 L679.5 260.5Z" fill="#9a9a9a"/>
<path d="M561.5 260.5 L561.1 238 L562.5 255.5 L563.5 256.9 L564.8 256.9 L566.5 255.8 L568.6 254.2 L570.6 252 L572.6 249.4 L574 246.5 L575.4 242.6 L577.2 236.5 L577.8 235 L579.4 228.1 L580.5 224.3 L581.6 222 L582.7 221.3 L584.4 221.3 L586 220.4 L586.9 218.4 L587.7 220.4 L588.4 222 L589.3 220.4 L590.4 219.3 L591.5 219.9 L592.6 219.1 L593.7 221 L594.6 222 L595.4 220.4 L596.5 219.3 L597.6 218.8 L598.7 217.7 L599.8 215.5 L600.9 212.2 L601.6 208.3 L602.3 205 L603.4 198 L604.2 195 L604.8 188.4 L605.8 183.3 L607.2 178.3 L608.2 168.2 L609.2 158.1 L610.6 151.1 L611.8 156.1 L612.8 166.2 L613.8 176.3 L615.2 185.4 L616.2 195 L617.3 200.1 L618.7 210.2 L619.9 220.3 L620.5 230 L622.5 239.1 L624.6 246.2 L626.6 250.2 L629.6 253.2 L633.6 257.2 L638.7 259.3 L645.7 260.5 L679.5 260.5" fill="none" stroke="#111" stroke-width="0.85" stroke-linejoin="miter" stroke-miterlimit="3"/>
<path d="M561.5 260.5H679.5" stroke="#333" stroke-width="0.8" fill="none"/>
<text x="615" y="151.7" font-family="Liberation Serif" font-weight="bold" font-size="9.6" text-anchor="middle" fill="#000" stroke="#000" stroke-width="0.2">NCAMB+L</text>
<path d="M29.6 150.2V230.6H121.5" stroke="#000" stroke-width="1.1" fill="none"/>
<path d="M26.6 230.6H29.6" stroke="#000" stroke-width="1"/>
<text x="25.6" y="232.9" font-size="6.6" font-weight="bold" text-anchor="end" font-family="Liberation Sans" stroke="#000" stroke-width="0.12">0</text>
<path d="M26.6 210.6H29.6" stroke="#000" stroke-width="1"/>
<text x="25.6" y="212.9" font-size="6.6" font-weight="bold" text-anchor="end" font-family="Liberation Sans" stroke="#000" stroke-width="0.12">20</text>
<path d="M26.6 190.6H29.6" stroke="#000" stroke-width="1"/>
<text x="25.6" y="192.9" font-size="6.6" font-weight="bold" text-anchor="end" font-family="Liberation Sans" stroke="#000" stroke-width="0.12">40</text>
<path d="M26.6 170.6H29.6" stroke="#000" stroke-width="1"/>
<text x="25.6" y="172.9" font-size="6.6" font-weight="bold" text-anchor="end" font-family="Liberation Sans" stroke="#000" stroke-width="0.12">60</text>
<path d="M26.6 150.6H29.6" stroke="#000" stroke-width="1"/>
<text x="25.6" y="152.9" font-size="6.6" font-weight="bold" text-anchor="end" font-family="Liberation Sans" stroke="#000" stroke-width="0.12">80</text>
<text transform="translate(14.6 190.5) rotate(-90)" font-size="6.9" stroke="#000" stroke-width="0.12" font-weight="bold" text-anchor="middle" font-family="Liberation Sans">ROS Production  (%)</text>
<rect x="33.4" y="207.2" width="5.6" height="23.4" fill="#000" stroke="#000" stroke-width="1.05"/>
<path d="M36.2 207.2V205.6M34.6 205.6H37.8" stroke="#000" stroke-width="0.75"/>
<path d="M36.2 230.6V233.4" stroke="#000" stroke-width="0.75"/>
<text transform="translate(38.6 238.6) rotate(-45)" font-size="6.2" font-weight="bold" text-anchor="end" font-family="Liberation Sans" stroke="#000" stroke-width="0.15">UC</text>
<rect x="43.15" y="188.2" width="5.6" height="42.4" fill="#fff" stroke="#000" stroke-width="1.05"/>
<path d="M45.95 188.2V185.5M44.35 185.5H47.55" stroke="#000" stroke-width="0.75"/>
<text x="43.65" y="182.6" font-size="2.8" font-weight="bold" text-anchor="middle" fill="#111">a</text>
<text x="47.45" y="183.3" font-size="2.8" font-weight="bold" text-anchor="middle" fill="#111">b</text>
<circle cx="45.45" cy="184.6" r="0.4" fill="#666"/>
<path d="M45.95 230.6V233.4" stroke="#000" stroke-width="0.75"/>
<text transform="translate(48.35 238.6) rotate(-45)" font-size="6.2" font-weight="bold" text-anchor="end" font-family="Liberation Sans" stroke="#000" stroke-width="0.15">MAT</text>
<rect x="53" y="191.4" width="5.6" height="39.2" fill="#c4c4c4" stroke="#000" stroke-width="1.05"/>
<path d="M55.8 191.4V188.7M54.2 188.7H57.4" stroke="#000" stroke-width="0.75"/>
<text x="53.5" y="185.8" font-size="2.8" font-weight="bold" text-anchor="middle" fill="#111">a</text>
<text x="57.3" y="186.5" font-size="2.8" font-weight="bold" text-anchor="middle" fill="#111">b</text>
<circle cx="55.3" cy="187.8" r="0.4" fill="#666"/>
<path d="M55.8 230.6V233.4" stroke="#000" stroke-width="0.75"/>
<text transform="translate(58.2 238.6) rotate(-45)" font-size="6.2" font-weight="bold" text-anchor="end" font-family="Liberation Sans" stroke="#000" stroke-width="0.15">AMB</text>
<rect x="62.9" y="177" width="5.6" height="53.6" fill="#fff" stroke="#000" stroke-width="1.05"/>
<path d="M65.7 177V174.3M64.1 174.3H67.3" stroke="#000" stroke-width="0.75"/>
<text x="63.4" y="171.4" font-size="2.8" font-weight="bold" text-anchor="middle" fill="#111">a</text>
<text x="67.2" y="172.1" font-size="2.8" font-weight="bold" text-anchor="middle" fill="#111">b</text>
<circle cx="65.2" cy="173.4" r="0.4" fill="#666"/>
<path d="M65.7 230.6V233.4" stroke="#000" stroke-width="0.75"/>
<text transform="translate(68.1 238.6) rotate(-45)" font-size="6.2" font-weight="bold" text-anchor="end" font-family="Liberation Sans" stroke="#000" stroke-width="0.15">NCMAT</text>
<rect x="72.7" y="180.9" width="5.6" height="49.7" fill="#c4c4c4" stroke="#000" stroke-width="1.05"/>
<path d="M75.5 180.9V178.2M73.9 178.2H77.1" stroke="#000" stroke-width="0.75"/>
<text x="73.2" y="175.3" font-size="2.8" font-weight="bold" text-anchor="middle" fill="#111">a</text>
<text x="77" y="176" font-size="2.8" font-weight="bold" text-anchor="middle" fill="#111">b</text>
<circle cx="75" cy="177.3" r="0.4" fill="#666"/>
<path d="M75.5 230.6V233.4" stroke="#000" stroke-width="0.75"/>
<text transform="translate(77.9 238.6) rotate(-45)" font-size="6.2" font-weight="bold" text-anchor="end" font-family="Liberation Sans" stroke="#000" stroke-width="0.15">NACAMB</text>
<rect x="82.65" y="175.7" width="5.6" height="54.9" fill="url(#chk1)" stroke="#000" stroke-width="1.05"/>
<path d="M85.45 175.7V173M83.85 173H87.05" stroke="#000" stroke-width="0.75"/>
<text x="83.15" y="170.1" font-size="2.8" font-weight="bold" text-anchor="middle" fill="#111">a</text>
<text x="86.95" y="170.8" font-size="2.8" font-weight="bold" text-anchor="middle" fill="#111">b</text>
<circle cx="84.95" cy="172.1" r="0.4" fill="#666"/>
<path d="M85.45 230.6V233.4" stroke="#000" stroke-width="0.75"/>
<text transform="translate(87.85 238.6) rotate(-45)" font-size="6.2" font-weight="bold" text-anchor="end" font-family="Liberation Sans" stroke="#000" stroke-width="0.15">MAT+L</text>
<rect x="92.7" y="179" width="5.6" height="51.6" fill="url(#hst)" stroke="#333" stroke-width="1.05"/>
<path d="M95.5 179V176.3M93.9 176.3H97.1" stroke="#000" stroke-width="0.75"/>
<text x="93.2" y="173.4" font-size="2.8" font-weight="bold" text-anchor="middle" fill="#111">a</text>
<text x="97" y="174.1" font-size="2.8" font-weight="bold" text-anchor="middle" fill="#111">b</text>
<circle cx="95" cy="175.4" r="0.4" fill="#666"/>
<path d="M95.5 230.6V233.4" stroke="#000" stroke-width="0.75"/>
<text transform="translate(97.9 238.6) rotate(-45)" font-size="6.2" font-weight="bold" text-anchor="end" font-family="Liberation Sans" stroke="#000" stroke-width="0.15">AMB+L</text>
<rect x="102.5" y="162.2" width="5.6" height="68.4" fill="url(#chk2)" stroke="#000" stroke-width="1.05"/>
<path d="M105.3 162.2V159.5M103.7 159.5H106.9" stroke="#000" stroke-width="0.75"/>
<text x="103" y="156.6" font-size="2.8" font-weight="bold" text-anchor="middle" fill="#111">a</text>
<text x="106.8" y="157.3" font-size="2.8" font-weight="bold" text-anchor="middle" fill="#111">b</text>
<circle cx="104.8" cy="158.6" r="0.4" fill="#666"/>
<path d="M105.3 230.6V233.4" stroke="#000" stroke-width="0.75"/>
<text transform="translate(107.7 238.6) rotate(-45)" font-size="6.2" font-weight="bold" text-anchor="end" font-family="Liberation Sans" stroke="#000" stroke-width="0.15">NCMAT+L</text>
<rect x="112.5" y="165.2" width="5.6" height="65.4" fill="url(#hst)" stroke="#333" stroke-width="1.05"/>
<path d="M115.3 165.2V162.5M113.7 162.5H116.9" stroke="#000" stroke-width="0.75"/>
<text x="113" y="159.6" font-size="2.8" font-weight="bold" text-anchor="middle" fill="#111">a</text>
<text x="116.8" y="160.3" font-size="2.8" font-weight="bold" text-anchor="middle" fill="#111">b</text>
<circle cx="114.8" cy="161.6" r="0.4" fill="#666"/>
<path d="M115.3 230.6V233.4" stroke="#000" stroke-width="0.75"/>
<text transform="translate(117.7 238.6) rotate(-45)" font-size="6.2" font-weight="bold" text-anchor="end" font-family="Liberation Sans" stroke="#000" stroke-width="0.15">NACAMB+L</text>
<text x="53.1" y="146.6" font-size="4.8" font-weight="bold" text-anchor="middle" fill="#333" font-family="Liberation Sans">a</text>
<text x="70.7" y="146.6" font-size="4.8" font-weight="bold" text-anchor="middle" fill="#333" font-family="Liberation Sans">a</text>
<text x="90.3" y="146.6" font-size="4.8" font-weight="bold" text-anchor="middle" fill="#333" font-family="Liberation Sans">a</text>
<text x="110.2" y="146.6" font-size="4.8" font-weight="bold" text-anchor="middle" fill="#333" font-family="Liberation Sans">d</text>
<path d="M48.1 149.4H58.4M105 149.4H116M116 148.6V150.2" stroke="#111" stroke-width="0.65"/>
<path d="M75.7 148.9V150.6M85.2 148.9V150.6M95.1 148.9V150.6" stroke="#aaa" stroke-width="0.5"/>
<path d="M137.5 0V273" stroke="#bcbcbc" stroke-width="1"/>
<path d="M273.5 0V273" stroke="#cacaca" stroke-width="1"/>
<path d="M410.5 0V273" stroke="#555" stroke-width="1"/>
<path d="M547.5 0V273" stroke="#999" stroke-width="1"/>
<path d="M0 0.5H685" stroke="#727272" stroke-width="1"/>
<path d="M0.5 0V273" stroke="#686868" stroke-width="1"/>
<path d="M684.5 0V273" stroke="#5e5e5e" stroke-width="1"/>
<path d="M0 272.5H685" stroke="#b0b0b0" stroke-width="1"/>
<path d="M0 136.5H685" stroke="#555" stroke-width="1.1"/>
</svg>
</body></html>
